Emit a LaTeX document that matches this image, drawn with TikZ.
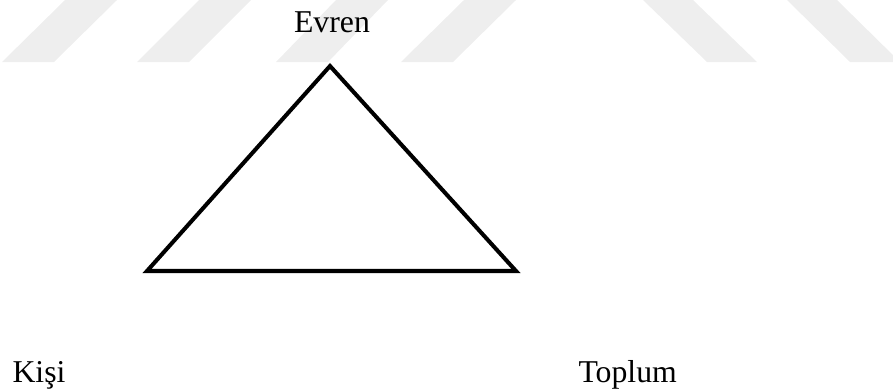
\documentclass[tikz,border=0pt]{standalone}
\usepackage{fontspec}
\setmainfont{Liberation Serif}
\definecolor{markgray}{RGB}{238,238,238}
\usetikzlibrary{positioning}
\tikzset{
  term/.style={inner sep=0pt, font=\fontsize{12.2}{14}\selectfont},
  side/.style={draw=black, line width=1.55pt, line join=miter},
  stripe/.style={fill=markgray, draw=none},
}
\begin{document}
\begin{tikzpicture}[x=0.0135cm, y=-0.0135cm]
  \useasboundingbox (0,0) rectangle (893,391);
  % faint watermark bands
  \foreach \bx/\tx in {2/65, 137/199, 276/336, 401/464}
    \fill[stripe] (\bx,62) -- (\bx+52,62) -- (\tx+52,0) -- (\tx,0) -- cycle;
  \foreach \tx/\bx in {643/707, 787/850}
    \fill[stripe] (\tx,0) -- (\tx+50,0) -- (\bx+50,62) -- (\bx,62) -- cycle;

  % corners
  \coordinate (top)   at (330,66);
  \coordinate (left)  at (147,271);
  \coordinate (right) at (516,271);

  \node[term, anchor=base] (evren) at (332,32) {Evren};
  \node[term, anchor=base west] (kisi) at (12,382) {Kişi};
  \node[term, anchor=base west] (toplum) at (578,382) {Toplum};

  \draw[side] (top) -- (left) -- (right) -- cycle;
\end{tikzpicture}
\end{document}
